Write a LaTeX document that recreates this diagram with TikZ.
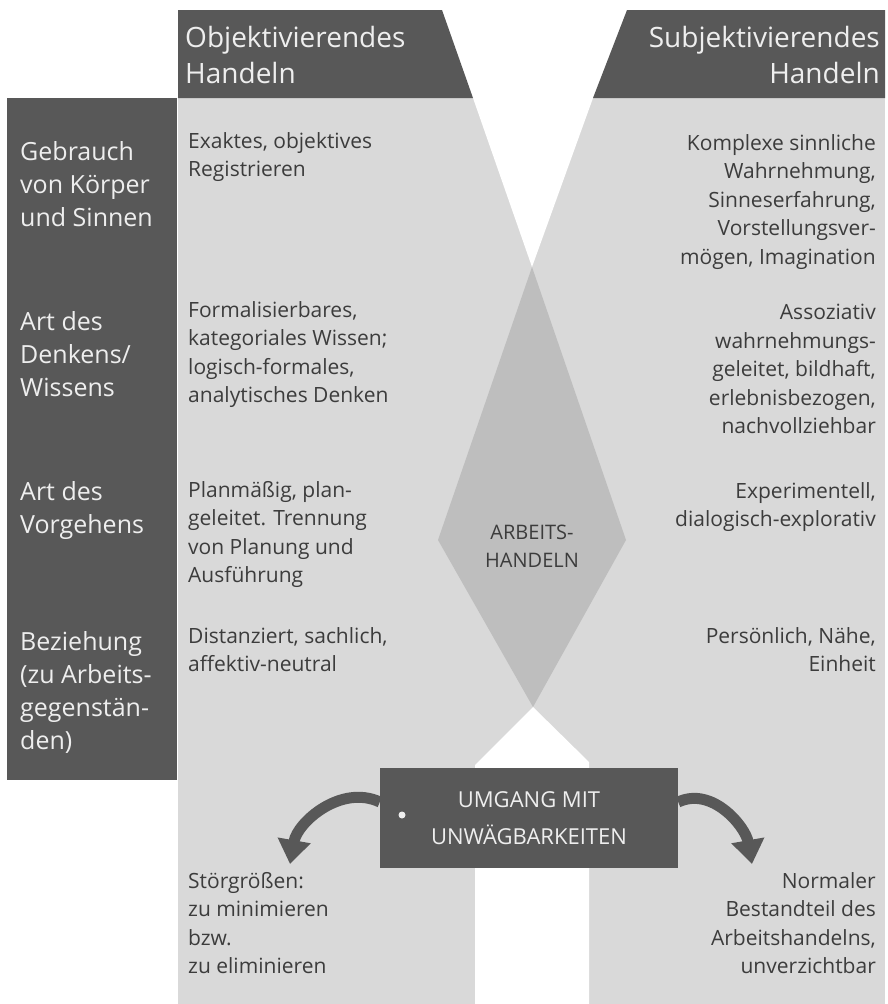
\documentclass[tikz,border=0pt]{standalone}
\usepackage{fontspec}
\setmainfont{Open Sans}
\usetikzlibrary{arrows.meta,positioning}
\definecolor{bandgray}{HTML}{D9D9D9}
\definecolor{crossgray}{HTML}{BEBEBE}
\definecolor{headgray}{HTML}{585858}
\definecolor{inkgray}{HTML}{3C3C3C}
\definecolor{paper}{HTML}{EEEEEE}
\newcommand{\fsz}[2]{\fontsize{#1}{#2}\selectfont}

\begin{document}
\begin{tikzpicture}[
    x=1pt, y=1pt,
    headtext/.style={inner sep=0pt, text=paper, font=\fsz{28}{36}},
    rowlabel/.style={anchor=north west, inner sep=0pt, align=left, text=paper, font=\fsz{25}{33}},
    objtext/.style={anchor=north west, inner sep=0pt, align=left, text=inkgray, font=\fsz{21}{28.5}},
    subjtext/.style={anchor=north east, inner sep=0pt, align=right, text=inkgray, font=\fsz{21}{28.5}},
    capsbox/.style={fill=headgray, text=paper, align=center, minimum width=298pt,
        minimum height=100pt, inner sep=0pt, font=\fsz{22}{37}},
    bigarrow/.style={-{Triangle[length=24pt,width=32pt]}, line width=11pt, draw=headgray}
]
\useasboundingbox (0,0) rectangle (888,-1004);
% bands and the crossing
\fill[bandgray] (178,-98) rectangle (885,-1004);
\fill[white] (473,-98) -- (593,-98) -- (532,-267) -- cycle;
\fill[white] (475,-1004) -- (475,-765) -- (533,-707) -- (589,-762) -- (589,-1004) -- cycle;
\fill[crossgray] (532,-267) -- (626,-540) -- (533,-707) -- (438,-540) -- cycle;
% heads and label column
\fill[headgray] (178,-10) -- (442,-10) -- (473,-98) -- (178,-98) -- cycle;
\fill[headgray] (627,-10) -- (885,-10) -- (885,-98) -- (593,-98) -- cycle;
\fill[headgray] (7,-98) rectangle (177,-780);

\node[headtext, anchor=north west, align=left] (objhead) at (185,-26) {Objektivierendes\\Handeln};
\node[headtext, anchor=north east, align=right] (subjhead) at (880,-26) {Subjektivierendes\\Handeln};

\node[rowlabel] (body) at (20,-141) {Gebrauch\\von Körper\\und Sinnen};
\node[rowlabel] (think) at (20,-311) {Art des\\Denkens/\\Wissens};
\node[rowlabel] (proc) at (20,-481) {Art des\\Vorgehens};
\node[rowlabel] (rel) at (20,-631) {Beziehung\\(zu Arbeits-\\gegenstän-\\den)};

\node[objtext] (objbody) at (188,-132) {Exaktes, objektives\\Registrieren};
\node[objtext] (objthink) at (188,-301) {Formalisierbares,\\kategoriales Wissen;\\logisch-formales,\\analytisches Denken};
\node[objtext] (objproc) at (188,-481) {Planmäßig, plan-\\geleitet. Trennung\\von Planung und\\Ausführung};
\node[objtext] (objrel) at (188,-627) {Distanziert, sachlich,\\affektiv-neutral};
\node[objtext] (objrisk) at (188,-872) {Störgrößen:\\zu minimieren\\bzw.\\zu eliminieren};

\node[subjtext] (subjbody) at (876,-134) {Komplexe sinnliche\\Wahrnehmung,\\Sinneserfahrung,\\Vorstellungsver-\\mögen, Imagination};
\node[subjtext] (subjthink) at (876,-304) {Assoziativ\\wahrnehmungs-\\geleitet, bildhaft,\\erlebnisbezogen,\\nachvollziehbar};
\node[subjtext] (subjproc) at (876,-482) {Experimentell,\\dialogisch-explorativ};
\node[subjtext] (subjrel) at (876,-627) {Persönlich, Nähe,\\Einheit};
\node[subjtext] (subjrisk) at (876,-872) {Normaler\\Bestandteil des\\Arbeitshandelns,\\unverzichtbar};

\node[font=\fsz{20}{28}, text=inkgray, align=center] (work) at (532,-546) {ARBEITS-\\HANDELN};

\node[capsbox] (unw) at (529,-818) {UMGANG MIT\\UNWÄGBARKEITEN};
\fill[paper] (402,-815) circle (3.5);
\coordinate (stoertip) at (290,-864);
\coordinate (normtip) at (752,-864);
\draw[bigarrow] ([yshift=16pt]unw.west) to[out=155,in=80] (stoertip);
\draw[bigarrow] ([yshift=16pt]unw.east) to[out=25,in=100] (normtip);
\end{tikzpicture}
\end{document}
